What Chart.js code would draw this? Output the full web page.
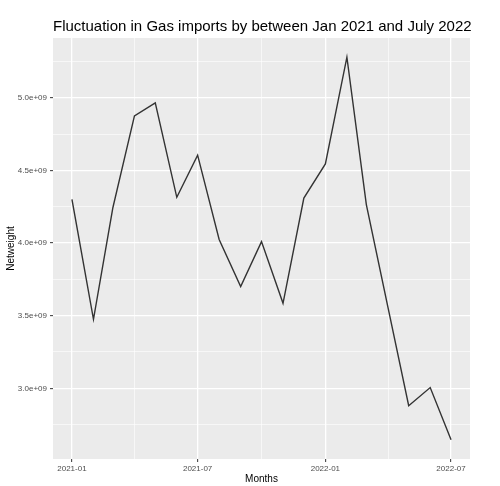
<!DOCTYPE html>
<html>
<head>
<meta charset="utf-8">
<script src="https://cdn.jsdelivr.net/npm/chart.js@4/dist/chart.umd.min.js"></script>
<style>
  html, body { margin: 0; padding: 0; background: #fff; }
  #wrap { width: 500px; height: 486px; }
</style>
</head>
<body>
<div id="wrap"><canvas id="chart"></canvas></div>
<script>
// monthly gas imports (netweight)
const months = ['2021-01', '2021-02', '2021-03', '2021-04', '2021-05', '2021-06', '2021-07',
  '2021-08', '2021-09', '2021-10', '2021-11', '2021-12', '2022-01', '2022-02', '2022-03',
  '2022-04', '2022-05', '2022-06', '2022-07'];
const netweight = [4.30e9, 3.475e9, 4.245e9, 4.875e9, 4.965e9, 4.315e9, 4.605e9,
  4.025e9, 3.70e9, 4.01e9, 3.585e9, 4.31e9, 4.545e9, 5.28e9, 4.265e9,
  3.56e9, 2.88e9, 3.005e9, 2.645e9];
const xMajor = ['2021-01', '2021-07', '2022-01', '2022-07'];
const yMajor = [3.0e9, 3.5e9, 4.0e9, 4.5e9, 5.0e9];
const yMinor = [2.75e9, 3.25e9, 3.75e9, 4.25e9, 4.75e9, 5.25e9];

const FONT = '"Liberation Sans", Arial, sans-serif';

// days since the first month, so spacing follows the calendar
function dayOf(m) {
  const [y, mo] = m.split('-').map(Number);
  return (Date.UTC(y, mo - 1, 1) - Date.UTC(2021, 0, 1)) / 86400000;
}

function sci(v) {
  const e = Math.floor(Math.log10(v));
  const m = (v / Math.pow(10, e)).toFixed(1);
  return m + 'e+' + String(e).padStart(2, '0');
}

const points = months.map((m, i) => ({x: dayOf(m), y: netweight[i]}));

const xMajorDays = xMajor.map(dayOf);
const xMinorDays = xMajorDays.slice(1).map((d, i) => (d + xMajorDays[i]) / 2);
const xLabels = {};
xMajor.forEach((m, i) => { xLabels[xMajorDays[i]] = m; });

const xs = points.map(p => p.x), ys = netweight;
const xPad = (Math.max(...xs) - Math.min(...xs)) * 0.05;
const yPad = (Math.max(...ys) - Math.min(...ys)) * 0.05;

const panelBg = {
  id: 'panelBg',
  beforeDraw(chart) {
    const {ctx, chartArea: a} = chart;
    ctx.save();
    ctx.fillStyle = '#EBEBEB';
    ctx.fillRect(a.left, a.top, a.right - a.left, a.bottom - a.top);
    ctx.restore();
  }
};

const plotTitle = {
  id: 'plotTitle',
  afterDraw(chart) {
    const {ctx, chartArea: a} = chart;
    ctx.save();
    ctx.font = '15px ' + FONT;
    ctx.fillStyle = '#000';
    ctx.textBaseline = 'alphabetic';
    ctx.textAlign = 'left';
    ctx.fillText('Fluctuation in Gas imports by between Jan 2021 and July 2022', a.left, 30.5);
    ctx.restore();
  }
};

const isMajorX = v => xMajorDays.includes(v);
const isMajorY = v => yMajor.includes(v);

new Chart(document.getElementById('chart'), {
  type: 'line',
  data: {
    datasets: [{
      data: points,
      borderColor: '#333333',
      borderWidth: 1.4,
      pointRadius: 0,
      tension: 0,
      fill: false
    }]
  },
  plugins: [panelBg, plotTitle],
  options: {
    responsive: true,
    maintainAspectRatio: false,
    animation: false,
    layout: { padding: { top: 38, right: 30, bottom: 0, left: 0 } },
    plugins: {
      legend: { display: false },
      tooltip: { enabled: false },
      title: { display: false }
    },
    scales: {
      x: {
        type: 'linear',
        min: Math.min(...xs) - xPad,
        max: Math.max(...xs) + xPad,
        afterBuildTicks(scale) {
          scale.ticks = xMajorDays.concat(xMinorDays).sort((a, b) => a - b).map(v => ({value: v}));
        },
        afterFit(scale) { scale.height = 27; },
        border: { display: false },
        grid: {
          color: '#FFFFFF',
          lineWidth: c => (c.tick && isMajorX(c.tick.value)) ? 1.3 : 0.6,
          drawTicks: true,
          tickLength: 3,
          tickWidth: 1,
          tickColor: c => (c.tick && isMajorX(c.tick.value)) ? '#333333' : 'rgba(0,0,0,0)'
        },
        ticks: {
          autoSkip: false,
          maxRotation: 0,
          padding: 2,
          color: '#4D4D4D',
          font: { family: FONT, size: 8 },
          callback: v => xLabels[v] || ''
        },
        title: {
          display: true,
          text: 'Months',
          color: '#000',
          font: { family: FONT, size: 10 },
          padding: { top: 0, bottom: 1 }
        }
      },
      y: {
        type: 'linear',
        min: Math.min(...ys) - yPad,
        max: Math.max(...ys) + yPad,
        afterBuildTicks(scale) {
          scale.ticks = yMajor.concat(yMinor).sort((a, b) => a - b).map(v => ({value: v}));
        },
        afterFit(scale) { scale.width = 53; },
        border: { display: false },
        grid: {
          color: '#FFFFFF',
          lineWidth: c => (c.tick && isMajorY(c.tick.value)) ? 1.3 : 0.6,
          drawTicks: true,
          tickLength: 3,
          tickWidth: 1,
          tickColor: c => (c.tick && isMajorY(c.tick.value)) ? '#333333' : 'rgba(0,0,0,0)'
        },
        ticks: {
          autoSkip: false,
          padding: 3,
          color: '#4D4D4D',
          font: { family: FONT, size: 8 },
          callback: v => isMajorY(v) ? sci(v) : ''
        },
        title: {
          display: true,
          text: 'Netweight',
          color: '#000',
          font: { family: FONT, size: 10 },
          padding: { top: 5, bottom: 0 }
        }
      }
    }
  }
});
</script>
</body>
</html>
